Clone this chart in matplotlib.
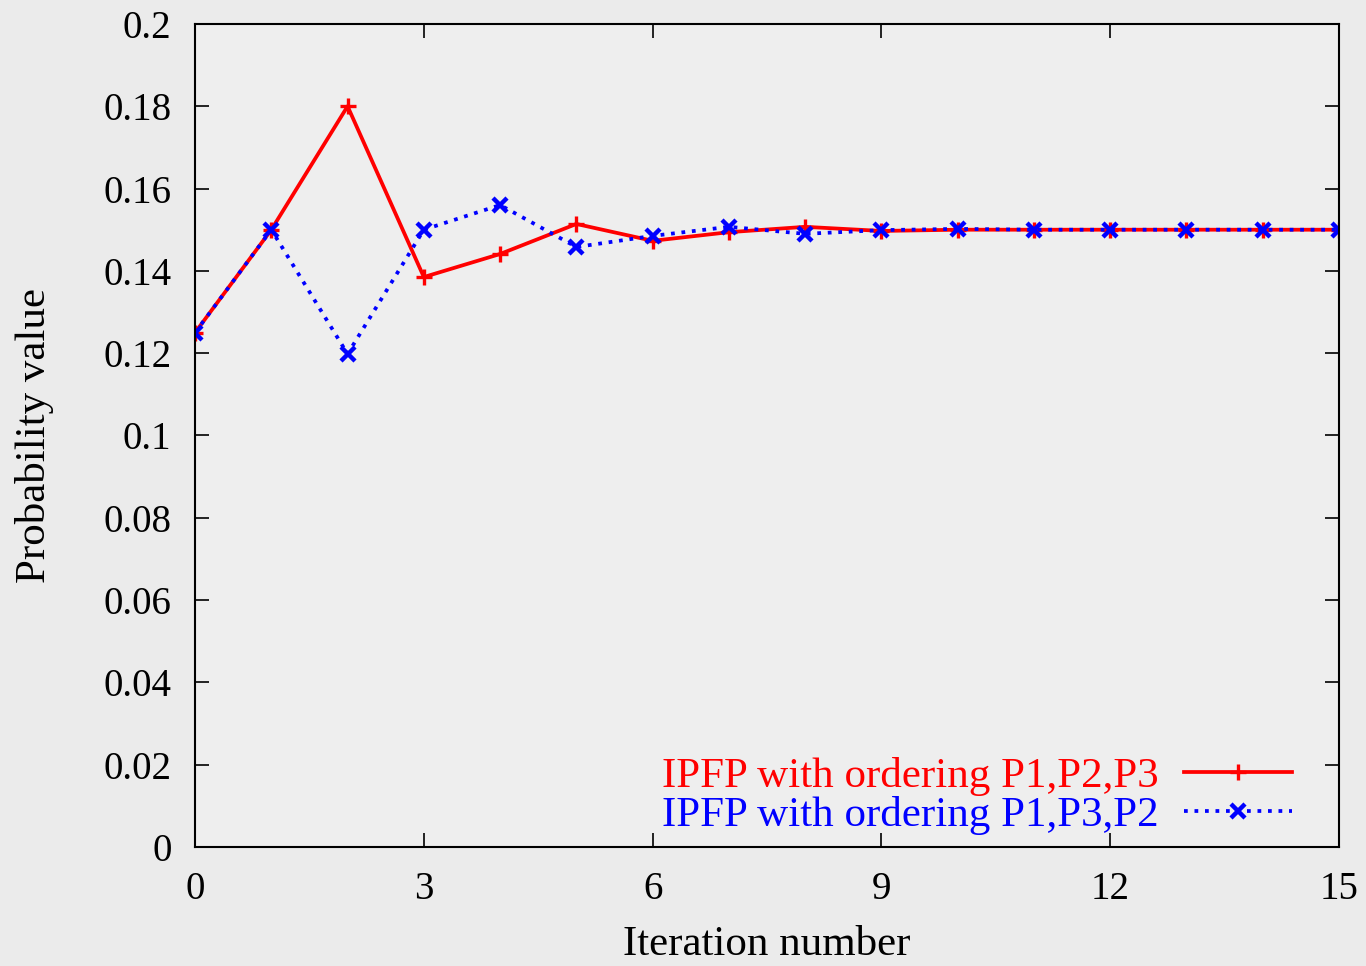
import matplotlib.pyplot as plt

iterations = list(range(16))
order_123 = [0.125, 0.150, 0.180, 0.1385, 0.1441, 0.1514, 0.1473, 0.1494,
             0.1507, 0.1497, 0.1500, 0.1500, 0.1500, 0.1500, 0.1500, 0.1500]
order_132 = [0.125, 0.150, 0.1198, 0.1500, 0.1560, 0.1458, 0.1485, 0.1507,
             0.1490, 0.1499, 0.1502, 0.1500, 0.1500, 0.1500, 0.1500, 0.1500]
labels = ['IPFP with ordering P1,P2,P3', 'IPFP with ordering P1,P3,P2']
xticks = [0, 3, 6, 9, 12, 15]
yticks = [0, 0.02, 0.04, 0.06, 0.08, 0.1, 0.12, 0.14, 0.16, 0.18, 0.2]
ytick_labels = ['0', '0.02', '0.04', '0.06', '0.08', '0.1', '0.12', '0.14',
                '0.16', '0.18', '0.2']

plt.rcParams['font.family'] = ['Liberation Serif', 'DejaVu Serif']

fig = plt.figure(figsize=(13.66, 9.66), dpi=100, facecolor='#ebebeb')
ax = fig.add_axes([0.1428, 0.1232, 0.8374, 0.852])
ax.set_facecolor('#eeeeee')

ax.plot(iterations, order_123, color='red', lw=2.7, marker='+', ms=12,
        mew=2.4, label=labels[0])
ax.plot(iterations, order_132, color='blue', lw=2.7, ls=(0, (1, 1.8)),
        marker='x', ms=10, mew=3.2, label=labels[1])

ax.set_xlim(0, 15)
ax.set_ylim(0, 0.2)
ax.set_xticks(xticks)
ax.set_yticks(yticks)
ax.set_yticklabels(ytick_labels)
ax.tick_params(direction='in', length=10, width=1.2, top=True, right=True,
               labelsize=28, pad=17)
for s in ax.spines.values():
    s.set_linewidth(1.5)

ax.set_xlabel('Iteration number', fontsize=31)
ax.set_ylabel('Probability value', fontsize=31)
ax.xaxis.set_label_coords(0.5, -0.119)
ax.xaxis.label.set_va('center')
ax.yaxis.set_label_coords(-0.14, 0.5)
ax.yaxis.label.set_va('center')

leg = ax.legend(loc='lower right', bbox_to_anchor=(0.985, -0.022),
                frameon=False, markerfirst=False, alignment='right',
                handlelength=2.5, fontsize=31, labelspacing=0.0,
                borderaxespad=0.4, borderpad=0.3, handletextpad=0.6)
for t, c in zip(leg.get_texts(), ['red', 'blue']):
    t.set_color(c)

fig.savefig('out.png', dpi=100, facecolor=fig.get_facecolor())
